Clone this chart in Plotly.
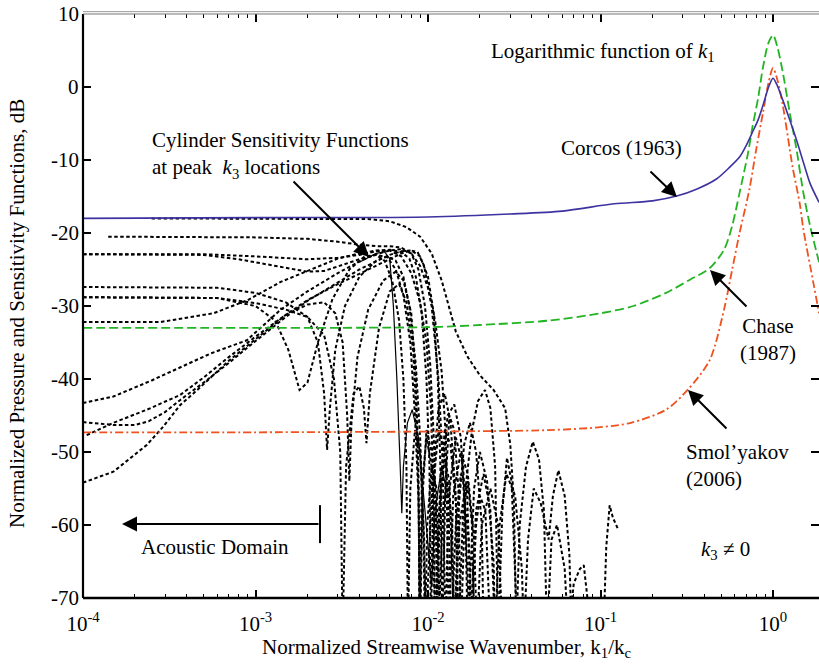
import plotly.graph_objects as go

# ---------------- data ----------------
corcos_k = [1e-4, 1e-3, 1e-2, 0.03, 0.06, 0.12, 0.2, 0.28, 0.36, 0.47, 0.56, 0.64, 0.7, 0.76, 0.82, 0.875, 0.95, 1.0, 1.05, 1.14, 1.25, 1.37, 1.5, 1.64, 1.85]
corcos_db = [-18.0, -17.9, -17.8, -17.4, -17.0, -16.0, -15.6, -14.9, -14.0, -12.6, -11.0, -9.6, -8.0, -6.2, -4.5, -2.5, 0.2, 1.2, 0.4, -1.8, -4.5, -7.3, -10.3, -13.2, -15.8]

chase_k = [1e-4, 1e-3, 1e-2, 0.02, 0.05, 0.1, 0.155, 0.24, 0.33, 0.43, 0.52, 0.58, 0.64, 0.72, 0.76, 0.82, 0.875, 0.94, 1.0, 1.06, 1.14, 1.25, 1.37, 1.5, 1.64, 1.85]
chase_db = [-33.0, -33.0, -32.9, -32.6, -32.0, -31.0, -30.0, -28.2, -26.4, -24.8, -22.3, -19.0, -14.5, -8.8, -5.5, -1.5, 2.7, 6.0, 7.1, 5.5, 2.0, -3.5, -8.6, -14.5, -19.0, -24.0]

smol_k = [1e-4, 1e-3, 1e-2, 0.05, 0.1, 0.15, 0.24, 0.32, 0.43, 0.52, 0.58, 0.64, 0.73, 0.8, 0.875, 0.94, 1.0, 1.06, 1.14, 1.3, 1.43, 1.5, 1.72, 1.85]
smol_db = [-47.3, -47.3, -47.2, -47.0, -46.6, -46.0, -44.2, -41.5, -37.4, -30.5, -25.0, -20.0, -14.0, -8.5, -3.5, 0.5, 2.6, 1.0, -2.5, -11.0, -16.0, -19.5, -27.0, -31.0]

# cylinder sensitivity functions (k1/kc, dB)
sens01 = [(2.5e-4, -18.0), (1e-3, -18.0), (3e-3, -18.0), (4.6e-3, -18.1), (6e-3, -18.4), (7.5e-3, -19.2), (9e-3, -20.5),
          (1.05e-2, -22.8), (1.2e-2, -26.5), (1.3e-2, -29.5), (1.45e-2, -33.5), (1.7e-2, -37.0), (2.0e-2, -39.5),
          (2.4e-2, -41.5), (2.8e-2, -44.0), (3.0e-2, -49.0), (3.15e-2, -57.0), (3.25e-2, -75), (3.4e-2, -60.0),
          (3.7e-2, -52.0), (4.05e-2, -48.6), (4.4e-2, -51.0), (4.7e-2, -58.0), (4.9e-2, -75), (5.2e-2, -62.0),
          (5.6e-2, -60.0), (6.2e-2, -66.0), (6.5e-2, -75), (7.0e-2, -68.0), (7.6e-2, -66.0), (8.0e-2, -65.5),
          (8.4e-2, -70.0), (8.7e-2, -75), (1.04e-1, -75), (1.08e-1, -63.0), (1.13e-1, -57.3), (1.18e-1, -59.0), (1.26e-1, -60.5)]
sens02 = [(1.4e-4, -20.5), (1e-3, -20.6), (2e-3, -20.8), (3e-3, -21.2), (4e-3, -21.6), (5e-3, -21.8), (6e-3, -21.8),
          (7e-3, -22.0), (8e-3, -22.8), (9e-3, -24.5), (1e-2, -27.5), (1.1e-2, -32), (1.2e-2, -39), (1.27e-2, -48),
          (1.32e-2, -75), (1.4e-2, -56), (1.55e-2, -50), (1.7e-2, -53), (1.85e-2, -62), (1.92e-2, -75), (2.05e-2, -60),
          (2.3e-2, -55), (2.55e-2, -60), (2.7e-2, -75)]
sens03 = [(1e-4, -22.9), (5e-4, -22.9), (1e-3, -23.2), (2e-3, -23.6), (3e-3, -23.4), (4e-3, -23.0), (5e-3, -22.5),
          (6e-3, -22.4), (7e-3, -23.2), (8e-3, -25.5), (9e-3, -29.5), (9.8e-3, -35), (1.04e-2, -44), (1.08e-2, -56),
          (1.1e-2, -75), (1.16e-2, -58), (1.25e-2, -51), (1.33e-2, -54), (1.42e-2, -75), (1.52e-2, -60), (1.62e-2, -56),
          (1.72e-2, -62), (1.78e-2, -75), (1.9e-2, -60), (2.0e-2, -56), (2.15e-2, -58), (2.3e-2, -75)]
sens04 = [(1e-4, -22.9), (5e-4, -23.0), (8e-4, -23.6), (1e-3, -24.0), (1.5e-3, -24.8), (2e-3, -25.3), (2.5e-3, -25.2),
          (3e-3, -24.6), (4e-3, -23.6), (5e-3, -23.0), (5.8e-3, -23.3), (6.5e-3, -25.0), (7.2e-3, -28.5), (7.9e-3, -35),
          (8.4e-3, -45), (8.8e-3, -56), (9.0e-3, -75), (9.3e-3, -56), (9.8e-3, -47), (1.05e-2, -50), (1.12e-2, -60),
          (1.15e-2, -75), (1.22e-2, -58), (1.3e-2, -54), (1.38e-2, -60), (1.42e-2, -75), (1.5e-2, -58), (1.62e-2, -49),
          (1.75e-2, -46), (1.9e-2, -50), (2.05e-2, -60), (2.1e-2, -75)]
sens05 = [(1e-4, -27.4), (6e-4, -27.5), (1e-3, -28.2), (1.5e-3, -29.5), (2e-3, -31.5), (2.3e-3, -35), (2.5e-3, -42),
          (2.6e-3, -49.7), (2.7e-3, -44), (2.9e-3, -36), (3.3e-3, -30), (4e-3, -26), (5e-3, -23.8), (5.8e-3, -23.2),
          (6.5e-3, -23.8), (7.2e-3, -26), (7.8e-3, -30), (8.5e-3, -38), (9.0e-3, -48), (9.4e-3, -60), (9.6e-3, -75),
          (9.9e-3, -60), (1.05e-2, -52), (1.12e-2, -55), (1.18e-2, -75)]
sens06 = [(1e-4, -28.8), (6e-4, -28.9), (1e-3, -30), (1.3e-3, -32), (1.55e-3, -36), (1.8e-3, -41.5), (2.0e-3, -40.5),
          (2.3e-3, -35), (2.8e-3, -29), (3.5e-3, -25), (4.3e-3, -23.2), (5e-3, -23.0), (5.6e-3, -23.8), (6.2e-3, -26.5),
          (6.8e-3, -32), (7.2e-3, -40), (7.5e-3, -52), (7.65e-3, -75), (7.9e-3, -55), (8.4e-3, -47), (9e-3, -50),
          (9.5e-3, -62), (9.7e-3, -75), (1.05e-2, -56), (1.15e-2, -44), (1.25e-2, -42), (1.35e-2, -46), (1.45e-2, -56),
          (1.5e-2, -75)]
sens07 = [(1e-4, -28.8), (6e-4, -28.9), (1e-3, -29.6), (1.5e-3, -30.5), (2e-3, -31.5), (2.5e-3, -34), (2.85e-3, -40),
          (3.1e-3, -50), (3.2e-3, -75), (3.35e-3, -52), (3.7e-3, -42), (4.0e-3, -41), (4.25e-3, -44), (4.4e-3, -48.8),
          (4.6e-3, -42), (5.2e-3, -33), (6e-3, -28), (6.8e-3, -27), (7.5e-3, -29.5), (8.2e-3, -36), (8.6e-3, -46),
          (8.85e-3, -58), (8.95e-3, -75)]
sens08 = [(1e-4, -32.2), (2.8e-4, -32.2), (5.7e-4, -31.0), (9e-4, -29.2), (1.4e-3, -26.7), (2e-3, -25.2), (3e-3, -23.5),
          (4e-3, -22.8), (5e-3, -22.4), (6e-3, -22.3), (7e-3, -22.6), (7.8e-3, -23.5), (8.5e-3, -26), (9.2e-3, -31),
          (9.8e-3, -40), (1.02e-2, -52), (1.04e-2, -75), (1.07e-2, -55), (1.15e-2, -47), (1.25e-2, -50), (1.32e-2, -58),
          (1.36e-2, -75), (1.45e-2, -60), (1.55e-2, -53), (1.68e-2, -55), (1.8e-2, -75)]
sens09 = [(1e-4, -43.3), (1.5e-4, -42.4), (2.5e-4, -40.2), (3.65e-4, -38.4), (5.5e-4, -36.5), (8.9e-4, -34.7),
          (1.4e-3, -30.5), (2e-3, -28), (3e-3, -25.5), (4e-3, -23.9), (5e-3, -22.9), (6e-3, -22.4), (7e-3, -22.2),
          (8e-3, -22.8), (8.8e-3, -25), (9.6e-3, -30), (1.03e-2, -38), (1.08e-2, -48), (1.11e-2, -58), (1.13e-2, -75),
          (1.17e-2, -56), (1.25e-2, -47), (1.35e-2, -49), (1.45e-2, -57), (1.5e-2, -75), (1.6e-2, -58), (1.7e-2, -54),
          (1.8e-2, -60), (1.86e-2, -75)]
sens10 = [(1e-4, -45.9), (1.5e-4, -46.3), (2e-4, -46.3), (2.4e-4, -45.8), (3e-4, -44.5), (3.65e-4, -42.9), (5e-4, -40.5),
          (7e-4, -37.8), (1e-3, -34.8), (1.5e-3, -31.5), (2e-3, -29.3), (3e-3, -26.8), (4e-3, -25.0), (5e-3, -23.9),
          (6e-3, -23.0), (7e-3, -22.5), (8e-3, -22.4), (9e-3, -23.2), (1.0e-2, -26), (1.08e-2, -31), (1.14e-2, -40),
          (1.18e-2, -52), (1.21e-2, -75), (1.26e-2, -55), (1.33e-2, -45), (1.42e-2, -47), (1.5e-2, -55), (1.55e-2, -75),
          (1.65e-2, -55), (1.8e-2, -47), (1.95e-2, -43), (2.14e-2, -41.5), (2.3e-2, -44), (2.45e-2, -52), (2.55e-2, -75),
          (2.7e-2, -58), (2.87e-2, -50.8), (3.05e-2, -54), (3.3e-2, -75)]
sens11 = [(1.05e-4, -47.7), (1.5e-4, -46), (2.35e-4, -44.2), (3.65e-4, -42.2), (5e-4, -39.8), (7e-4, -37), (1e-3, -34.2),
          (1.5e-3, -31.2), (2e-3, -29.8), (2.5e-3, -29.5), (2.9e-3, -31), (3.2e-3, -35), (3.4e-3, -45), (3.5e-3, -54),
          (3.6e-3, -46), (3.9e-3, -37), (4.5e-3, -30.5), (5.5e-3, -26.5), (6.5e-3, -25.3), (7.2e-3, -26.5), (8e-3, -31),
          (8.5e-3, -40), (8.8e-3, -52), (8.95e-3, -75), (9.2e-3, -55), (9.8e-3, -48), (1.05e-2, -52), (1.1e-2, -75),
          (1.2e-2, -54), (1.3e-2, -45), (1.42e-2, -43.5), (1.55e-2, -48), (1.65e-2, -60), (1.7e-2, -75), (1.85e-2, -55),
          (2.0e-2, -50), (2.2e-2, -54), (2.4e-2, -65), (2.45e-2, -75)]
sens12 = [(1e-4, -54.2), (1.5e-4, -52.7), (2.35e-4, -49), (2.9e-4, -46.6), (3.65e-4, -43.6), (4.6e-4, -41.5), (7e-4, -37.5),
          (1e-3, -34.5), (1.5e-3, -31.2), (2e-3, -29.2), (3e-3, -27), (4e-3, -25.6), (5e-3, -24.5), (6e-3, -23.6),
          (7e-3, -22.8), (8e-3, -22.4), (8.7e-3, -22.6), (9.5e-3, -24.5), (1.05e-2, -30), (1.15e-2, -40), (1.22e-2, -52),
          (1.26e-2, -75), (1.32e-2, -56), (1.45e-2, -48), (1.6e-2, -52), (1.75e-2, -75), (1.9e-2, -58), (2.1e-2, -53),
          (2.3e-2, -58), (2.45e-2, -75), (2.6e-2, -60), (2.85e-2, -53), (3.2e-2, -56), (3.5e-2, -66), (3.6e-2, -75),
          (3.8e-2, -62), (4.1e-2, -55), (4.5e-2, -57), (5.0e-2, -62), (5.3e-2, -56), (5.7e-2, -52.5), (6.2e-2, -56),
          (6.6e-2, -64), (6.8e-2, -75)]
sens13 = [(4e-3, -24.0), (5e-3, -22.8), (5.6e-3, -22.6), (6.0e-3, -23.5), (6.3e-3, -30), (6.6e-3, -40), (6.9e-3, -52),
          (7.05e-3, -58.4), (7.2e-3, -52), (7.6e-3, -46), (8.1e-3, -44.2), (8.8e-3, -48), (9.6e-3, -58), (1.05e-2, -68.5),
          (1.1e-2, -58), (1.2e-2, -52), (1.3e-2, -56)]

dotted_curves = [sens01, sens02, sens03, sens04, sens05, sens06, sens07, sens08, sens09, sens10, sens11, sens12]
solid_curves = [sens13]

y_ticks = [-70, -60, -50, -40, -30, -20, -10, 0, 10]
y_ticktext = ["-70", "-60", "-50", "-40", "-30", "-20", "-10", "0", "10"]
x_ticks = [1e-4, 1e-3, 1e-2, 1e-1, 1]
x_ticktext = ["10<sup>-4</sup>", "10<sup>-3</sup>", "10<sup>-2</sup>", "10<sup>-1</sup>", "10<sup>0</sup>"]

# ---------------- figure ----------------
FONT = "Liberation Serif"
fig = go.Figure()

for c in dotted_curves:
    fig.add_trace(go.Scatter(x=[p[0] for p in c], y=[p[1] for p in c], mode="lines",
                             line=dict(color="black", width=2.0, dash="3.5px,2.5px"), hoverinfo="skip"))
for c in solid_curves:
    fig.add_trace(go.Scatter(x=[p[0] for p in c], y=[p[1] for p in c], mode="lines",
                             line=dict(color="black", width=1.2), hoverinfo="skip"))

fig.add_trace(go.Scatter(x=smol_k, y=smol_db, mode="lines", line=dict(color="#f0521e", width=1.8, dash="8px,3px,2px,3px", shape="spline", smoothing=0.8)))
fig.add_trace(go.Scatter(x=chase_k, y=chase_db, mode="lines", line=dict(color="#22b422", width=1.8, dash="9px,4px", shape="spline", smoothing=0.8)))
fig.add_trace(go.Scatter(x=corcos_k, y=corcos_db, mode="lines", line=dict(color="#3c32a0", width=1.6, shape="spline", smoothing=0.8)))

minor_vals = [m * 10.0 ** e for e in range(-4, 1) for m in range(2, 10)]

fig.update_layout(
    width=819, height=665,
    margin=dict(l=83, r=0, t=14, b=67),
    plot_bgcolor="white", paper_bgcolor="white",
    showlegend=False,
    font=dict(family=FONT, size=20, color="black"),
    xaxis=dict(type="log", range=[-4, 0.2667], tickmode="array", tickvals=x_ticks, ticktext=x_ticktext,
               ticks="inside", ticklen=8, tickwidth=1.5, tickcolor="black", mirror="ticks",
               showline=False, showgrid=False, zeroline=False, ticklabelstandoff=11,
               tickfont=dict(family=FONT, size=21),
               minor=dict(tickmode="array", tickvals=minor_vals, ticks="inside", ticklen=4, tickwidth=1.2, tickcolor="black", showgrid=False)),
    yaxis=dict(range=[-70, 10], tickmode="array", tickvals=y_ticks,
               ticks="inside", ticklen=8, tickwidth=1.5, tickcolor="black", mirror="ticks",
               showline=False, showgrid=False, zeroline=False, showticklabels=False),
)

# y tick labels placed right next to the axis line
for v, t in zip(y_ticks, y_ticktext):
    fig.add_annotation(text=t, x=-0.0027, y=v, xref="paper", yref="y", showarrow=False,
                       xanchor="right", yanchor="middle", font=dict(family=FONT, size=21, color="black"))

# frame lines
fig.add_shape(type="line", xref="paper", yref="paper", x0=0, x1=0, y0=0, y1=1, line=dict(color="black", width=2.2))
fig.add_shape(type="line", xref="paper", yref="paper", x0=0, x1=1, y0=0, y1=0, line=dict(color="black", width=2.5))
fig.add_shape(type="line", xref="paper", yref="paper", x0=0, x1=1, y0=1, y1=1, line=dict(color="#777777", width=1))
fig.add_shape(type="line", xref="paper", yref="paper", x0=0, x1=1, y0=1.004, y1=1.004, line=dict(color="#999999", width=1))
# acoustic domain bar
fig.add_shape(type="line", xref="paper", yref="paper", x0=0.322, x1=0.322, y0=0.094, y1=0.159, line=dict(color="black", width=2))

def txt(s, x, y, xanchor="center", align="center", size=20):
    fig.add_annotation(text=s, x=x, y=y, xref="paper", yref="paper", showarrow=False,
                       xanchor=xanchor, yanchor="middle", align=align, font=dict(family=FONT, size=size, color="black"))

def arrow(x, y, ax, ay):
    fig.add_annotation(text="", x=x, y=y, xref="paper", yref="paper", ax=ax, ay=ay, showarrow=True,
                       arrowhead=2, arrowsize=1.5, arrowwidth=2, arrowcolor="black", standoff=0)

txt("Logarithmic function of <i>k</i><sub>1</sub>", 0.5516, 0.935, xanchor="left", size=21)
txt("Corcos (1963)", 0.7323, 0.7705, size=21)
arrow(0.807, 0.6866, -28, -27)
txt("Cylinder Sensitivity Functions<br>at peak  <i>k</i><sub>3</sub> locations", 0.091, 0.7586, xanchor="left", align="left", size=21)
arrow(0.3886, 0.5839, -77, -77)
txt("Chase<br>(1987)", 0.9307, 0.4418, size=21)
arrow(0.8519, 0.5616, 38, 38)
txt("Smol\u2019yakov<br>(2006)", 0.817, 0.2262, xanchor="left", align="left", size=21)
arrow(0.822, 0.3562, 40, 40)
txt("Acoustic Domain", 0.1787, 0.0873, size=21)
arrow(0.053, 0.1267, 198, 0)
txt("<i>k</i><sub>3</sub> \u2260 0", 0.8736, 0.0822, size=21)

# axis titles
txt("Normalized Streamwise Wavenumber, k<sub>1</sub>/k<sub>c</sub>", 0.4946, -0.0856, size=21)
fig.add_annotation(text="Normalized Pressure and Sensitivity Functions, dB", x=-0.0897, y=0.488, xref="paper", yref="paper",
                   showarrow=False, textangle=-90, xanchor="center", yanchor="middle", font=dict(family=FONT, size=21, color="black"))

fig.write_html("out.html")
